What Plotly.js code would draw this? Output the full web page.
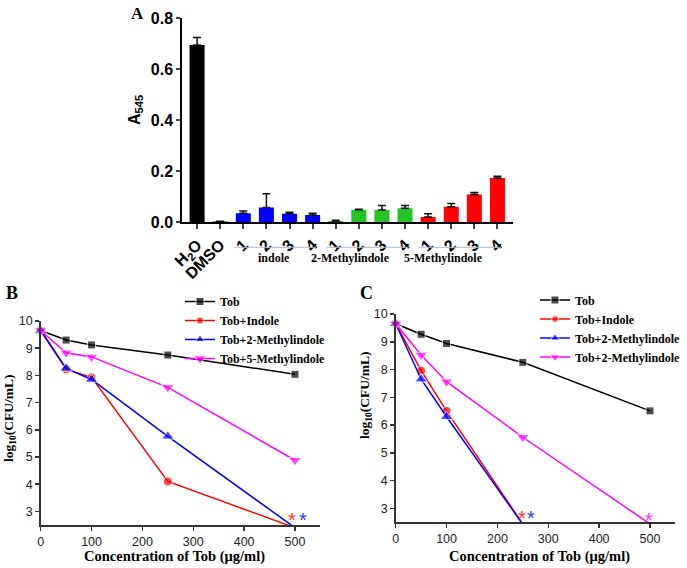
<!DOCTYPE html>
<html>
<head>
<meta charset="utf-8">
<script src="https://cdn.plot.ly/plotly-3.0.1.min.js"></script>
<style>html,body{margin:0;padding:0;background:#fff;}#chart{width:687px;height:568px;}</style>
</head>
<body>
<div id="chart"></div>
<script>
// ---------- Panel A data ----------
const controlCats = ['H2O', 'DMSO'];
const controlLabels = ['H<sub>2</sub>O', 'DMSO'];
const controlVals = [0.695, 0.003];
const controlErr = [0.030, 0.001];

const groupNames = ['indole', '2-Methylindole', '5-Methylindole'];
const doseLabels = ['1', '2', '3', '4'];
const indoleVals = [0.035, 0.058, 0.034, 0.029];
const indoleErr = [0.009, 0.054, 0.005, 0.006];
const mi2Vals = [0.005, 0.049, 0.048, 0.055];
const mi2Err = [0.003, 0.002, 0.018, 0.011];
const mi5Vals = [0.021, 0.061, 0.109, 0.174];
const mi5Err = [0.013, 0.013, 0.008, 0.007];

// ---------- Panel B data ----------
const concB = [0, 50, 100, 250, 500];
const tobB = [9.65, 9.30, 9.12, 8.75, 8.04];
const indB = [9.65, 8.22, 7.93, 4.10, 2.40];
const mi2B = [9.65, 8.26, 7.85, 5.76, 2.40];
const mi5B = [9.65, 8.83, 8.68, 7.56, 4.88];
const namesB = ['Tob', 'Tob+Indole', 'Tob+2-Methylindole', 'Tob+5-Methylindole'];

// ---------- Panel C data ----------
const concC = [0, 50, 100, 250, 500];
const concC3 = [0, 50, 100, 250];
const tobC = [9.65, 9.27, 8.94, 8.26, 6.51];
const indC = [9.65, 7.96, 6.51, 2.43];
const mi2C = [9.65, 7.65, 6.30, 2.42];
const mi5C = [9.65, 8.52, 7.56, 5.56, 2.44];
const namesC = ['Tob', 'Tob+Indole', 'Tob+2-Methylindole', 'Tob+2-Methylindole'];

// asterisk marks (x, y in data units)
const starsB = [[494.7, 2.82], [515, 2.82]];
const starsC = [[247.7, 2.78], [265.4, 2.78], [498.6, 2.72]];

// ---------- styles ----------
const SERIF = 'Liberation Serif, Times New Roman, serif';
const SANS = 'Liberation Sans, Arial, sans-serif';
const lineColors = ['#000000', '#ff0000', '#0000ff', '#ff00ff'];
const symbols = ['square', 'circle', 'triangle-up', 'triangle-down'];
const symbolSizes = [8, 9, 11, 11];
const groupColors = ['#0000ff', '#22c322', '#ff0000'];

const traces = [];

// Panel A bars
const groupVals = [indoleVals, mi2Vals, mi5Vals];
const groupErrs = [indoleErr, mi2Err, mi5Err];
const allCats = controlCats.slice();
const allLabels = controlLabels.slice();
groupNames.forEach((g) => doseLabels.forEach((d) => { allCats.push(g + '-' + d); allLabels.push(d); }));

function barTrace(cats, vals, err, color) {
  return {
    type: 'bar', x: cats, y: vals, xaxis: 'x', yaxis: 'y', width: 0.65,
    marker: {color: color, line: {width: 0}}, showlegend: false,
    error_y: {type: 'data', symmetric: false, array: err, arrayminus: err.map(() => 0),
      color: '#111', thickness: 1.5, width: 4}
  };
}
traces.push(barTrace(controlCats, controlVals, controlErr, '#000000'));
groupNames.forEach((g, i) => {
  traces.push(barTrace(doseLabels.map(d => g + '-' + d), groupVals[i], groupErrs[i], groupColors[i]));
});

function lineTrace(x, s, i, name, xa, ya, leg) {
  return {
    type: 'scatter', mode: 'lines+markers', x: x, y: s, xaxis: xa, yaxis: ya,
    name: name, legend: leg, cliponaxis: false,
    line: {color: lineColors[i], width: 1.5},
    marker: {symbol: symbols[i], color: lineColors[i], size: s.map(v => v < 2.5 ? 0 : symbolSizes[i])}
  };
}
// Panel B lines
[tobB, indB, mi2B, mi5B].forEach((s, i) => traces.push(lineTrace(concB, s, i, namesB[i], 'x2', 'y2', 'legend')));
// Panel C lines
const xC = [concC, concC3, concC3, concC];
[tobC, indC, mi2C, mi5C].forEach((s, i) => traces.push(lineTrace(xC[i], s, i, namesC[i], 'x3', 'y3', 'legend2')));

const W = 687, H = 568;
const px = (v) => v / W;
const py = (v) => 1 - v / H;

const lineAxis = (dom, anchor) => ({
  domain: dom, anchor: anchor, showline: true, linecolor: '#333', linewidth: 1.5,
  ticks: 'outside', ticklen: 4, tickwidth: 1.5, tickcolor: '#333',
  showgrid: false, zeroline: false, tickfont: {family: SANS, size: 12.5, color: '#222'}
});

const layout = {
  width: W, height: H, margin: {l: 0, r: 0, t: 0, b: 0},
  paper_bgcolor: '#fff', plot_bgcolor: 'rgba(0,0,0,0)',
  barmode: 'overlay', showlegend: true,
  xaxis: {
    domain: [px(182.3), px(512.7)], anchor: 'y', type: 'category',
    categoryorder: 'array', categoryarray: allCats, range: [-0.64, 13.66],
    tickmode: 'array', tickvals: allCats, ticktext: allLabels, tickangle: -45,
    showline: true, linecolor: '#000', linewidth: 2, ticks: 'outside', ticklen: 5, tickwidth: 2,
    tickfont: {family: SANS, size: 16, color: '#000', weight: 'bold'}, showgrid: false
  },
  yaxis: {
    domain: [py(222.3), py(18.3)], anchor: 'x', range: [0, 0.8], dtick: 0.2, tickformat: '.1f',
    showline: true, linecolor: '#000', linewidth: 2, ticks: 'outside', ticklen: 4, tickwidth: 2,
    tickfont: {family: SANS, size: 16, color: '#000', weight: 'bold'}, showgrid: false, zeroline: false
  },
  xaxis2: Object.assign(lineAxis([px(40.7), px(320.4)], 'y2'), {range: [0, 550], dtick: 100, tick0: 0}),
  yaxis2: Object.assign(lineAxis([py(525), py(321)], 'x2'), {range: [2.5, 10], dtick: 1, tick0: 3}),
  xaxis3: Object.assign(lineAxis([px(395.7), px(675.4)], 'y3'), {range: [0, 550], dtick: 100, tick0: 0}),
  yaxis3: Object.assign(lineAxis([py(522.2), py(314)], 'x3'), {range: [2.5, 10], dtick: 1, tick0: 3}),
  legend: {x: px(180), y: py(287), xanchor: 'left', yanchor: 'top', bgcolor: 'rgba(0,0,0,0)',
    font: {family: SERIF, size: 12, color: '#000', weight: 'bold'}, tracegroupgap: 0},
  legend2: {x: px(535), y: py(285.5), xanchor: 'left', yanchor: 'top', bgcolor: 'rgba(0,0,0,0)',
    font: {family: SERIF, size: 12, color: '#000', weight: 'bold'}, tracegroupgap: 0},
  shapes: [],
  annotations: []
};

// group underlines and labels (panel A)
const groupLabelX = [3.31, 6.65, 10.65];
groupNames.forEach((g, i) => {
  const start = 2 + i * 4, end = start + 3;
  layout.shapes.push({type: 'line', xref: 'x', yref: 'paper', x0: start - 0.4, x1: end + 0.15,
    y0: py(247.3), y1: py(247.3), line: {color: '#a9bcd8', width: 1}});
  layout.annotations.push({xref: 'x', yref: 'paper', x: groupLabelX[i], y: py(258), text: g,
    xanchor: 'center', yanchor: 'middle',
    showarrow: false, font: {family: SERIF, size: 12, color: '#000', weight: 'bold'}});
});

const ann = (x, y, text, font, extra) => Object.assign({xref: 'paper', yref: 'paper', x: px(x), y: py(y),
  xanchor: 'center', yanchor: 'middle', text: text, showarrow: false, font: font}, extra || {});
const serifBold = (s) => ({family: SERIF, size: s, color: '#000', weight: 'bold'});

layout.annotations.push(
  ann(137, 14, 'A', serifBold(17)),
  ann(12.5, 292.5, 'B', serifBold(18)),
  ann(366, 292.5, 'C', serifBold(18)),
  ann(136, 110, 'A<sub>545</sub>', {family: SANS, size: 16, color: '#000', weight: 'bold'}, {textangle: -90}),
  ann(9, 419, 'log<sub>10</sub>(CFU/mL)', serifBold(13.5), {textangle: -90}),
  ann(365, 396, 'log<sub>10</sub>(CFU/mL)', serifBold(13.5), {textangle: -90}),
  ann(174, 556, 'Concentration of Tob (μg/ml)', serifBold(14.5)),
  ann(539, 556, 'Concentration of Tob (μg/ml)', serifBold(14.5))
);

const starColorsB = ['#ff3333', '#3333ff'];
const starColorsC = ['#ff3333', '#3333ff', '#ff33ff'];
const star = (xa, ya, s, c) => ({xref: xa, yref: ya, x: s[0], y: s[1], text: '*', xanchor: 'center', yanchor: 'middle',
  showarrow: false, yshift: -4, font: {family: SANS, size: 20, color: c}});
starsB.forEach((s, i) => layout.annotations.push(star('x2', 'y2', s, starColorsB[i])));
starsC.forEach((s, i) => layout.annotations.push(star('x3', 'y3', s, starColorsC[i])));

Plotly.newPlot('chart', traces, layout, {staticPlot: true, displayModeBar: false});
</script>
</body>
</html>
